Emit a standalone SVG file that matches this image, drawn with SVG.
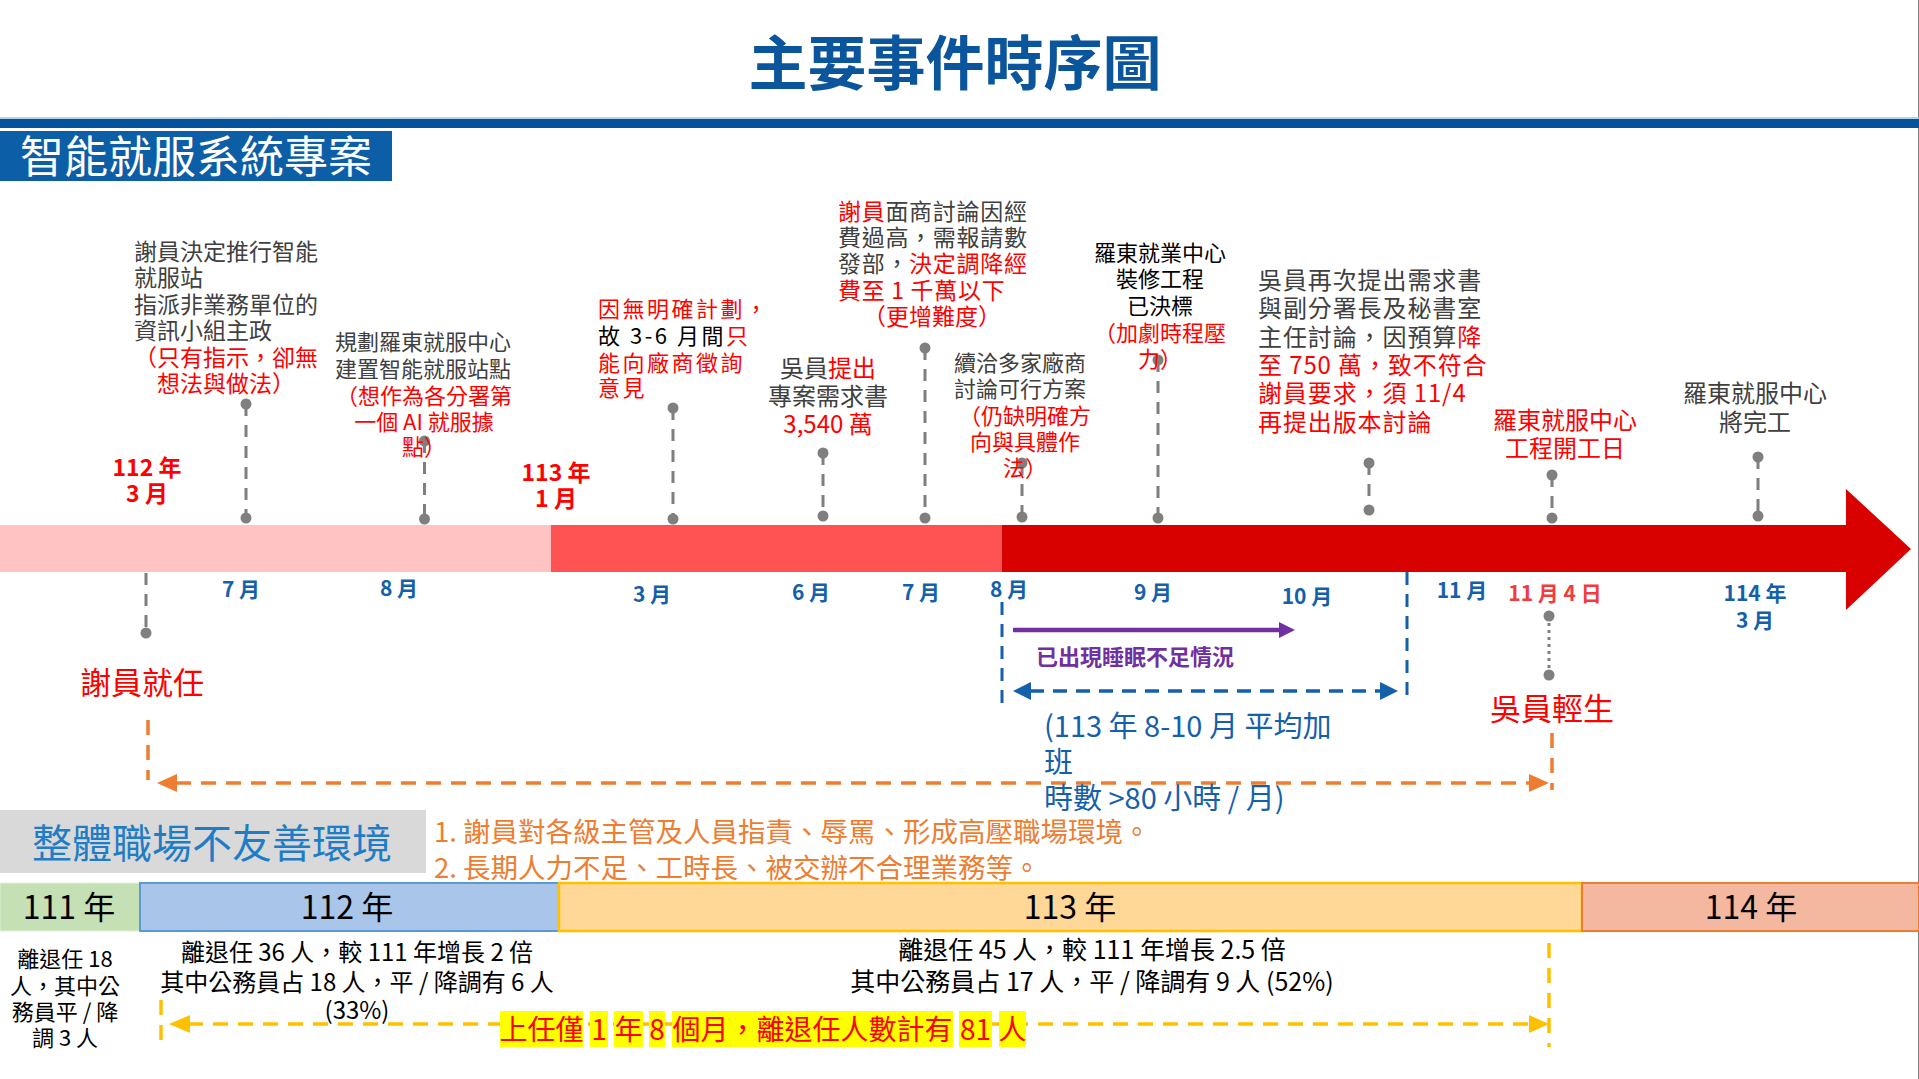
<svg xmlns="http://www.w3.org/2000/svg" width="1919" height="1079" viewBox="0 0 1919 1079">
<style>
text{font-family:"Noto Sans CJK TC","Noto Sans CJK SC","Microsoft JhengHei",sans-serif;}
.g{fill:#404040}
.k{fill:#000000}
.r{fill:#FF0000}
.mo{fill:#1560AA;font-weight:700;font-size:21px;text-anchor:middle}
.yr{fill:#FF0000;font-weight:700;font-size:23px;text-anchor:middle}
.pin{stroke:#7F7F7F;stroke-width:3;stroke-dasharray:12 9;fill:none}
.dot{fill:#7F7F7F}
.bt{fill:#000000;text-anchor:middle}
</style>
<rect x="0" y="0" width="1919" height="1079" fill="#FFFFFF"/>
<line x1="1918.5" y1="0" x2="1918.5" y2="1079" stroke="#7F7F7F" stroke-width="1"/>

<g id="header">
  <text x="955" y="85" font-size="59" font-weight="700" fill="#0B559D" text-anchor="middle">主要事件時序圖</text>
  <line x1="0" y1="118" x2="1919" y2="118" stroke="#9DC3E6" stroke-width="1.5"/>
  <rect x="0" y="119" width="1919" height="9" fill="#03539B"/>
</g>

<g id="section-title">
  <rect x="0" y="131" width="392" height="50" fill="#0C5EA6"/>
  <text x="196" y="173" font-size="44" fill="#FFFFFF" text-anchor="middle">智能就服系統專案</text>
</g>

<g id="timeline-bar">
  <rect x="0" y="525" width="551" height="47" fill="#FFC3C3"/>
  <rect x="551" y="525" width="451" height="47" fill="#FF5252"/>
  <polygon points="1002,525 1846,525 1846,489 1911,549 1846,610 1846,572 1002,572" fill="#D90000"/>
</g>

<g id="year-markers">
  <text class="yr"><tspan x="147" y="476">112 年</tspan><tspan x="147" y="502">3 月</tspan></text>
  <text class="yr"><tspan x="556" y="481">113 年</tspan><tspan x="556" y="507">1 月</tspan></text>
</g>

<g id="month-labels">
  <text class="mo" x="241" y="597">7 月</text>
  <text class="mo" x="399" y="596">8 月</text>
  <text class="mo" x="652" y="602">3 月</text>
  <text class="mo" x="811" y="600">6 月</text>
  <text class="mo" x="921" y="600">7 月</text>
  <text class="mo" x="1009" y="597">8 月</text>
  <text class="mo" x="1153" y="600">9 月</text>
  <text class="mo" x="1307" y="604">10 月</text>
  <text class="mo" x="1462" y="598">11 月</text>
  <text class="mo" x="1555" y="601" style="fill:#F03C3C">11 月 4 日</text>
  <text class="mo"><tspan x="1755" y="601">114 年</tspan><tspan x="1755" y="628">3 月</tspan></text>
</g>

<g id="connectors">
  <line class="pin" x1="246" y1="404" x2="246" y2="518"/>
  <line class="pin" x1="424.5" y1="441" x2="424.5" y2="519"/>
  <line class="pin" x1="673" y1="408" x2="673" y2="519"/>
  <line class="pin" x1="823" y1="453" x2="823" y2="516"/>
  <line class="pin" x1="925" y1="348" x2="925" y2="518"/>
  <line class="pin" x1="1022" y1="463" x2="1022" y2="517"/>
  <line class="pin" x1="1158" y1="360" x2="1158" y2="518"/>
  <line class="pin" x1="1369" y1="463" x2="1369" y2="510"/>
  <line class="pin" x1="1552" y1="475" x2="1552" y2="518"/>
  <line class="pin" x1="1758" y1="457" x2="1758" y2="516"/>
  <g class="dot">
    <circle cx="246" cy="404" r="5.5"/><circle cx="246" cy="518" r="5.5"/>
    <circle cx="424.5" cy="441" r="5.5"/><circle cx="424.5" cy="519" r="5.5"/>
    <circle cx="673" cy="408" r="5.5"/><circle cx="673" cy="519" r="5.5"/>
    <circle cx="823" cy="453" r="5.5"/><circle cx="823" cy="516" r="5.5"/>
    <circle cx="925" cy="348" r="5.5"/><circle cx="925" cy="518" r="5.5"/>
    <circle cx="1022" cy="463" r="5.5"/><circle cx="1022" cy="517" r="5.5"/>
    <circle cx="1158" cy="360" r="5.5"/><circle cx="1158" cy="518" r="5.5"/>
    <circle cx="1369" cy="463" r="5.5"/><circle cx="1369" cy="510" r="5.5"/>
    <circle cx="1552" cy="475" r="5.5"/><circle cx="1552" cy="518" r="5.5"/>
    <circle cx="1758" cy="457" r="5.5"/><circle cx="1758" cy="516" r="5.5"/>
  </g>
  <line class="pin" x1="146" y1="573" x2="146" y2="633"/>
  <circle class="dot" cx="146" cy="633" r="5.5"/>
  <line x1="1549" y1="616" x2="1549" y2="675" stroke="#7F7F7F" stroke-width="3" stroke-dasharray="3 4"/>
  <circle class="dot" cx="1549" cy="616" r="5.5"/>
  <circle class="dot" cx="1549" cy="675" r="5.5"/>

  <line x1="1013" y1="630" x2="1281" y2="630" stroke="#7030A0" stroke-width="4.5"/>
  <polygon points="1279,622 1295,630 1279,638" fill="#7030A0"/>

  <line x1="1002" y1="602" x2="1002" y2="707" stroke="#1560AA" stroke-width="3" stroke-dasharray="13 9"/>
  <line x1="1407" y1="572" x2="1407" y2="697" stroke="#1560AA" stroke-width="3" stroke-dasharray="13 9"/>
  <line x1="1030" y1="691" x2="1381" y2="691" stroke="#1560AA" stroke-width="3.5" stroke-dasharray="14 9"/>
  <polygon points="1013,691 1031,682 1031,700" fill="#1560AA"/>
  <polygon points="1398,691 1380,682 1380,700" fill="#1560AA"/>

  <line x1="148" y1="720" x2="148" y2="780" stroke="#ED7D31" stroke-width="3.5" stroke-dasharray="15 10"/>
  <line x1="1552" y1="733" x2="1552" y2="790" stroke="#ED7D31" stroke-width="3.5" stroke-dasharray="15 10"/>
  <line x1="176" y1="783" x2="1531" y2="783" stroke="#ED7D31" stroke-width="3.5" stroke-dasharray="15 10"/>
  <polygon points="157,783 177,774 177,792" fill="#ED7D31"/>
  <polygon points="1549,783 1529,774 1529,792" fill="#ED7D31"/>

  <line x1="161" y1="1000" x2="161" y2="1048" stroke="#FFC000" stroke-width="3.5" stroke-dasharray="15 10"/>
  <line x1="1549" y1="943" x2="1549" y2="1047" stroke="#FFC000" stroke-width="3.5" stroke-dasharray="15 10"/>
  <line x1="188" y1="1024" x2="1531" y2="1024" stroke="#FFC000" stroke-width="3.5" stroke-dasharray="15 10"/>
  <polygon points="169,1024 190,1015 190,1033" fill="#FFC000"/>
  <polygon points="1549,1024 1529,1015 1529,1033" fill="#FFC000"/>
</g>

<g id="event-1">
  <text font-size="23" class="g"><tspan x="134" y="260">謝員決定推行智能</tspan><tspan x="134" y="286">就服站</tspan><tspan x="134" y="313">指派非業務單位的</tspan><tspan x="134" y="339">資訊小組主政</tspan></text>
  <text font-size="23" class="r" text-anchor="middle"><tspan x="226" y="366">（只有指示，卻無</tspan><tspan x="226" y="392">想法與做法）</tspan></text>
</g>

<g id="event-2">
  <text font-size="22" class="g"><tspan x="335" y="350">規劃羅東就服中心</tspan><tspan x="335" y="376.5">建置智能就服站點</tspan></text>
  <text font-size="22" class="r" text-anchor="middle"><tspan x="424" y="403.5">（想作為各分署第</tspan><tspan x="424" y="430">一個 AI 就服據</tspan><tspan x="424" y="455">點）</tspan></text>
</g>

<g id="event-3">
  <text font-size="22" letter-spacing="2.5"><tspan x="598" y="316.5" class="r">因無明確計劃，</tspan><tspan x="598" y="343.5" class="k">故 3-6 月間</tspan><tspan class="r">只</tspan><tspan x="598" y="370.5" class="r">能向廠商徵詢</tspan><tspan x="598" y="395.5" class="r">意見</tspan></text>
</g>

<g id="event-4">
  <text font-size="24" text-anchor="middle" class="g"><tspan x="828" y="377">吳員<tspan class="r">提出</tspan></tspan><tspan x="828" y="405">專案需求書</tspan><tspan x="828" y="433" class="r">3,540 萬</tspan></text>
</g>

<g id="event-5">
  <text font-size="23" letter-spacing="0.7" class="g"><tspan x="838" y="220"><tspan class="r">謝員</tspan>面商討論因經</tspan><tspan x="838" y="246">費過高，需報請數</tspan><tspan x="838" y="272">發部，<tspan class="r">決定調降經</tspan></tspan><tspan x="838" y="299" class="r">費至 1 千萬以下</tspan></text>
  <text font-size="23" class="r" text-anchor="middle" x="932" y="325">（更增難度）</text>
</g>

<g id="event-6">
  <text font-size="22" class="g"><tspan x="954" y="370.5">續洽多家廠商</tspan><tspan x="954" y="396.5">討論可行方案</tspan></text>
  <text font-size="22" class="r" text-anchor="middle"><tspan x="1025" y="423.5">（仍缺明確方</tspan><tspan x="1025" y="449.5">向與具體作</tspan><tspan x="1025" y="475.5">法）</tspan></text>
</g>

<g id="event-7">
  <text font-size="22" class="k" text-anchor="middle"><tspan x="1160" y="260.5">羅東就業中心</tspan><tspan x="1160" y="286.5">裝修工程</tspan><tspan x="1160" y="313.5">已決標</tspan></text>
  <text font-size="22" class="r" text-anchor="middle"><tspan x="1160" y="340.5">（加劇時程壓</tspan><tspan x="1160" y="366.5">力）</tspan></text>
</g>

<g id="event-8">
  <text font-size="24" letter-spacing="0.9" class="g"><tspan x="1258" y="289">吳員再次提出需求書</tspan><tspan x="1258" y="317">與副分署長及秘書室</tspan><tspan x="1258" y="346">主任討論，因預算<tspan class="r">降</tspan></tspan><tspan x="1258" y="374" class="r">至 750 萬，致不符合</tspan><tspan x="1258" y="402" class="r">謝員要求，須 11/4</tspan><tspan x="1258" y="431" class="r">再提出版本討論</tspan></text>
</g>

<g id="event-9">
  <text font-size="24" class="r" text-anchor="middle"><tspan x="1565" y="429">羅東就服中心</tspan><tspan x="1565" y="457">工程開工日</tspan></text>
</g>

<g id="event-10">
  <text font-size="24" class="g" text-anchor="middle"><tspan x="1755" y="402">羅東就服中心</tspan><tspan x="1755" y="431">將完工</tspan></text>
</g>

<g id="event-hsieh-start">
  <text x="142" y="694" font-size="31" class="r" text-anchor="middle">謝員就任</text>
</g>

<g id="event-wu-death">
  <text x="1552" y="720" font-size="31" class="r" text-anchor="middle">吳員輕生</text>
</g>

<g id="sleep-note">
  <text x="1036" y="665" font-size="22" font-weight="700" fill="#7030A0">已出現睡眠不足情況</text>
</g>

<g id="overtime-note">
  <text font-size="29" fill="#1560AA"><tspan x="1044" y="737">(113 年 8-10 月 平均加</tspan><tspan x="1044" y="773">班</tspan><tspan x="1044" y="809">時數 &gt;80 小時 / 月)</tspan></text>
</g>

<g id="environment">
  <rect x="0" y="810" width="426" height="63" fill="#D9D9D9"/>
  <text x="212" y="858" font-size="40" fill="#1F7DC6" text-anchor="middle">整體職場不友善環境</text>
  <text font-size="27.5" fill="#ED7D31"><tspan x="434" y="842">1. 謝員對各級主管及人員指責、辱罵、形成高壓職場環境。</tspan><tspan x="434" y="878">2. 長期人力不足、工時長、被交辦不合理業務等。</tspan></text>
</g>

<g id="year-111">
  <rect x="0" y="883" width="140" height="48" fill="#C5E0B4" stroke="#E2EFDA" stroke-width="1"/>
  <text x="69" y="919" font-size="32" class="bt">111 年</text>
</g>
<g id="year-112">
  <rect x="140" y="883" width="419" height="48" fill="#A9C5E9" stroke="#5B9BD5" stroke-width="2"/>
  <text x="347" y="919" font-size="32" class="bt">112 年</text>
</g>
<g id="year-113">
  <rect x="559" y="883" width="1023" height="48" fill="#FFD797" stroke="#FFC000" stroke-width="2.5"/>
  <text x="1070" y="919" font-size="32" class="bt">113 年</text>
</g>
<g id="year-114">
  <rect x="1582" y="883" width="337" height="48" fill="#F4B8A0" stroke="#ED7D31" stroke-width="2"/>
  <text x="1751" y="919" font-size="32" class="bt">114 年</text>
</g>

<g id="stats-111">
  <text font-size="22" class="bt"><tspan x="65" y="966.5">離退任 18</tspan><tspan x="65" y="993.5">人，其中公</tspan><tspan x="65" y="1019.5">務員平 / 降</tspan><tspan x="65" y="1045.5">調 3 人</tspan></text>
</g>
<g id="stats-112">
  <text font-size="24" class="bt"><tspan x="357" y="961">離退任 36 人，較 111 年增長 2 倍</tspan><tspan x="357" y="991">其中公務員占 18 人，平 / 降調有 6 人</tspan><tspan x="357" y="1019">(33%)</tspan></text>
</g>
<g id="stats-113">
  <text font-size="25" class="bt"><tspan x="1092" y="959">離退任 45 人，較 111 年增長 2.5 倍</tspan><tspan x="1092" y="991">其中公務員占 17 人，平 / 降調有 9 人 (52%)</tspan></text>
</g>

<g id="summary">
  <g fill="#FFFF00">
    <rect x="500" y="1011" width="83" height="36"/>
    <rect x="590" y="1011" width="18" height="36"/>
    <rect x="614" y="1011" width="29" height="36"/>
    <rect x="649" y="1011" width="16" height="36"/>
    <rect x="672" y="1011" width="281" height="36"/>
    <rect x="959" y="1011" width="33" height="36"/>
    <rect x="999" y="1011" width="27" height="36"/>
  </g>
  <text font-size="28" fill="#FF0000" text-anchor="middle"><tspan x="541.5" y="1040">上任僅</tspan><tspan x="599" y="1040">1</tspan><tspan x="628.5" y="1040">年</tspan><tspan x="657" y="1040">8</tspan><tspan x="812.5" y="1040">個月，離退任人數計有</tspan><tspan x="975.5" y="1040">81</tspan><tspan x="1012.5" y="1040">人</tspan></text>
</g>
</svg>
